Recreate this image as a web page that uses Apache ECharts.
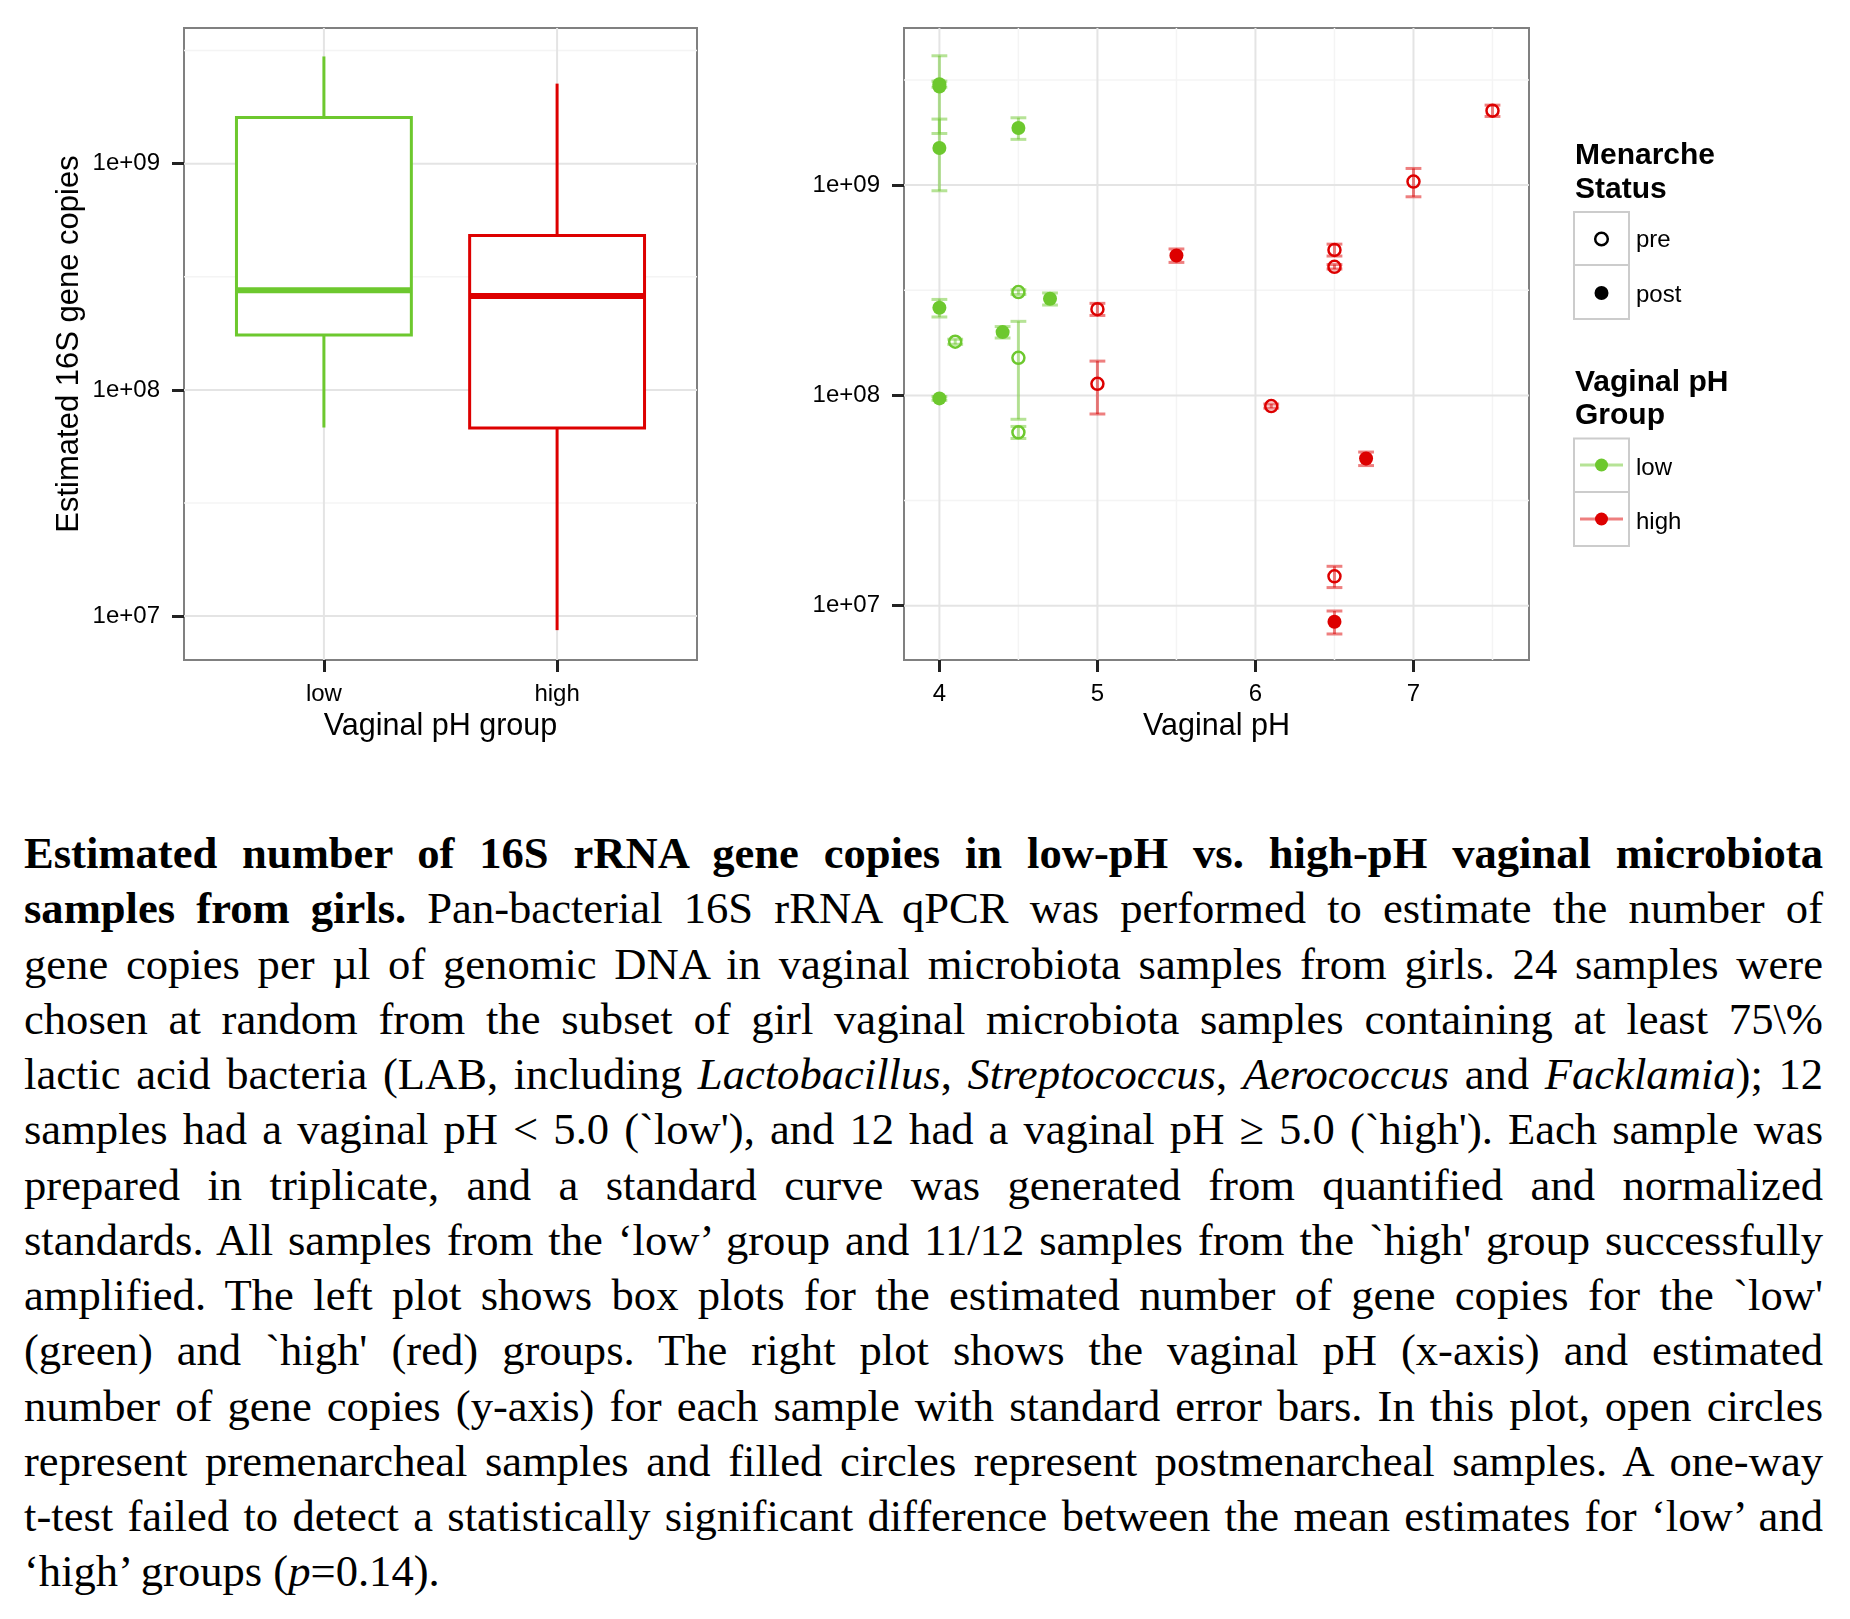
<!DOCTYPE html>
<html>
<head>
<meta charset="utf-8">
<title>Estimated 16S rRNA gene copies</title>
<script src="https://cdn.jsdelivr.net/npm/echarts@6.0.0/dist/echarts.min.js"></script>
<style>
html,body{margin:0;padding:0;background:#fff;width:1850px;height:1619px;overflow:hidden;}
#chart{position:absolute;left:0;top:0;width:1850px;height:780px;}
#caption{position:absolute;left:24px;top:826px;width:1799px;font-family:"Liberation Serif","Times New Roman",serif;font-size:44.6px;color:#000;}
#caption .ln{height:55.25px;line-height:55.25px;text-align:justify;text-align-last:justify;white-space:normal;}
#caption .ln.last{text-align-last:left;}
</style>
</head>
<body>
<div id="chart"></div>
<div id="caption"></div>
<script>
// ---------------- data ----------------
const groupCategories = ['low', 'high'];
// five-number summaries: [lower whisker, Q1, median, Q3, upper whisker]
const boxLow  = [6.82e7, 1.75e8, 2.76e8, 1.60e9, 2.98e9];
const boxHigh = [8.67e6, 6.79e7, 2.60e8, 4.82e8, 2.26e9];

const yTickValues = [1e7, 1e8, 1e9];
const yTickLabels = ['1e+07', '1e+08', '1e+09'];
const yMinorLog = [7.5, 8.5, 9.5];
const phTicks = [4, 5, 6, 7];
const phMinor = [4.5, 5.5, 6.5, 7.5];

// right plot: per-sample mean estimate and standard error
const lowPrePH      = [4.1, 4.5, 4.5, 4.5];
const lowPreCopies  = [1.80e8, 3.10e8, 1.51e8, 6.68e7];
const lowPreSE      = [5e6, 8e6, 7.4e7, 4.4e6];
const lowPostPH     = [4.0, 4.0, 4.0, 4.5, 4.0, 4.4, 4.7, 4.0];
const lowPostCopies = [2.94e9, 3.02e9, 1.50e9, 1.87e9, 2.61e8, 2.00e8, 2.88e8, 9.68e7];
const lowPostSE     = [1.18e9, 1.0e8, 5.6e8, 2.2e8, 2.5e7, 1.25e7, 1.9e7, 2e6];
const highPrePH      = [5.0, 5.0, 6.1, 6.5, 6.5, 6.5, 7.0, 7.5];
const highPreCopies  = [2.57e8, 1.136e8, 8.9e7, 4.92e8, 4.09e8, 1.38e7, 1.04e9, 2.26e9];
const highPreSE      = [1.7e7, 3.2e7, 2e6, 3.2e7, 1e7, 1.6e6, 1.6e8, 1.4e8];
const highPostPH     = [5.5, 6.5, 6.7];
const highPostCopies = [4.63e8, 8.39e6, 5.01e7];
const highPostSE     = [3.4e7, 1.05e6, 3.7e6];

const captionLines = [
  '<b>Estimated number of 16S rRNA gene copies in low-pH vs. high-pH vaginal microbiota</b>',
  '<b>samples from girls.</b> Pan-bacterial 16S rRNA qPCR was performed to estimate the number of',
  'gene copies per µl of genomic DNA in vaginal microbiota samples from girls. 24 samples were',
  'chosen at random from the subset of girl vaginal microbiota samples containing at least 75\\%',
  'lactic acid bacteria (LAB, including <i>Lactobacillus</i>, <i>Streptococcus</i>, <i>Aerococcus</i> and <i>Facklamia</i>); 12',
  'samples had a vaginal pH &lt; 5.0 (`low\'), and 12 had a vaginal pH ≥ 5.0 (`high\'). Each sample was',
  'prepared in triplicate, and a standard curve was generated from quantified and normalized',
  'standards. All samples from the ‘low’ group and 11/12 samples from the `high\' group successfully',
  'amplified. The left plot shows box plots for the estimated number of gene copies for the `low\'',
  '(green) and `high\' (red) groups. The right plot shows the vaginal pH (x-axis) and estimated',
  'number of gene copies (y-axis) for each sample with standard error bars. In this plot, open circles',
  'represent premenarcheal samples and filled circles represent postmenarcheal samples. A one-way',
  't-test failed to detect a statistically significant difference between the mean estimates for ‘low’ and',
  '‘high’ groups (<i>p</i>=0.14).'
];

// ---------------- styles ----------------
const GREEN = '#6dc82e';
const RED = '#dd0000';
const GREEN_EB = 'rgba(109,200,46,0.5)';
const RED_EB = 'rgba(221,0,0,0.5)';
const groupColors = [GREEN, RED];
const FONT = '"Liberation Sans", Arial, sans-serif';

// caption
document.getElementById('caption').innerHTML = captionLines.map((l, i) =>
  '<div class="ln' + (i === captionLines.length - 1 ? ' last' : '') + '">' + l + '</div>').join('');

// ---------------- helpers ----------------
const lg = Math.log10;
const yTickLog = yTickValues.map(lg);
function fmtY(v) {
  const i = yTickLog.findIndex(t => Math.abs(t - v) < 1e-6);
  return i >= 0 ? yTickLabels[i] : '';
}
const L = { xMin: 0.4, xMax: 2.6, yMin: 6.806, yMax: 9.600 };
const R = { xMin: 3.776, xMax: 7.731, yMin: 6.742, yMax: 9.747 };

function gridLineSeries(xi, yi, data, horizontal, color, width) {
  return {
    type: 'custom', xAxisIndex: xi, yAxisIndex: yi, silent: true, z: 1, clip: false,
    data: data,
    renderItem: function (params, api) {
      const cs = params.coordSys;
      const p = api.coord([api.value(0), api.value(1)]);
      const shape = horizontal
        ? { x1: cs.x, y1: p[1], x2: cs.x + cs.width, y2: p[1] }
        : { x1: p[0], y1: cs.y, x2: p[0], y2: cs.y + cs.height };
      return { type: 'line', shape: shape, style: { stroke: color, lineWidth: width } };
    }
  };
}

function errorBarSeries(phs, means, ses, color) {
  const data = phs.map((p, i) => [p, lg(means[i] - ses[i]), lg(means[i] + ses[i])]);
  return {
    type: 'custom', xAxisIndex: 1, yAxisIndex: 1, silent: true, z: 3,
    encode: { x: 0, y: [1, 2] },
    data: data,
    renderItem: function (params, api) {
      const x = api.value(0), lo = api.value(1), hi = api.value(2);
      const half = 0.05;
      const a = api.coord([x, hi]), b = api.coord([x, lo]);
      const c1 = api.coord([x - half, hi]), c2 = api.coord([x + half, hi]);
      const d1 = api.coord([x - half, lo]), d2 = api.coord([x + half, lo]);
      const st = { stroke: color, lineWidth: 3 };
      return { type: 'group', children: [
        { type: 'line', shape: { x1: a[0], y1: a[1], x2: b[0], y2: b[1] }, style: st },
        { type: 'line', shape: { x1: c1[0], y1: c1[1], x2: c2[0], y2: c2[1] }, style: st },
        { type: 'line', shape: { x1: d1[0], y1: d1[1], x2: d2[0], y2: d2[1] }, style: st }
      ]};
    }
  };
}

function pointSeries(phs, means, color, open) {
  return {
    type: 'scatter', xAxisIndex: 1, yAxisIndex: 1, silent: true, z: 4,
    symbol: 'circle', symbolSize: open ? 12 : 14,
    data: phs.map((p, i) => [p, lg(means[i])]),
    itemStyle: open
      ? { color: 'rgba(255,255,255,0)', borderColor: color, borderWidth: 2.5, opacity: 1 }
      : { color: color, borderWidth: 0, opacity: 1 },
    emphasis: { disabled: true }
  };
}

const tickStyle = { show: true, length: 12, lineStyle: { color: '#222', width: 3 } };
const labelStyle = { fontSize: 24, color: '#000', fontFamily: FONT };

function legendText(text, x, y, bold) {
  const font = (bold ? 'bold 30px ' : '24px ') + FONT;
  return { type: 'text', x: x, y: y, style: { text: text, font: font, fill: '#000', textAlign: 'left', textVerticalAlign: 'middle', align: 'left', verticalAlign: 'middle' } };
}

const option = {
  animation: false,
  backgroundColor: '#fff',
  textStyle: { fontFamily: FONT },
  grid: [
    { left: 184, top: 28, width: 513, height: 632, show: true, borderColor: '#808080', borderWidth: 2, backgroundColor: '#fff', containLabel: false },
    { left: 904, top: 28, width: 625, height: 632, show: true, borderColor: '#808080', borderWidth: 2, backgroundColor: '#fff', containLabel: false }
  ],
  xAxis: [
    {
      gridIndex: 0, type: 'value', min: L.xMin, max: L.xMax,
      axisLine: { show: false }, splitLine: { show: false },
      axisTick: Object.assign({ customValues: [1, 2] }, tickStyle),
      axisLabel: Object.assign({ customValues: [1, 2], margin: 22,
        formatter: v => { const i = Math.round(v) - 1; return (Math.abs(v - Math.round(v)) < 1e-6 && groupCategories[i]) || ''; } }, labelStyle),
      name: 'Vaginal pH group', nameLocation: 'middle', nameGap: 47,
      nameTextStyle: { fontSize: 30.5, color: '#000', fontFamily: FONT }
    },
    {
      gridIndex: 1, type: 'value', min: R.xMin, max: R.xMax,
      axisLine: { show: false }, splitLine: { show: false },
      axisTick: Object.assign({ customValues: phTicks }, tickStyle),
      axisLabel: Object.assign({ customValues: phTicks, margin: 22,
        formatter: v => (phTicks.indexOf(v) >= 0 ? String(v) : '') }, labelStyle),
      name: 'Vaginal pH', nameLocation: 'middle', nameGap: 47,
      nameTextStyle: { fontSize: 30.5, color: '#000', fontFamily: FONT }
    }
  ],
  yAxis: [
    {
      gridIndex: 0, type: 'value', min: L.yMin, max: L.yMax,
      axisLine: { show: false }, splitLine: { show: false },
      axisTick: Object.assign({ customValues: yTickLog }, tickStyle),
      axisLabel: Object.assign({ customValues: yTickLog, margin: 24, formatter: fmtY }, labelStyle),
      name: 'Estimated 16S gene copies', nameLocation: 'middle', nameGap: 99,
      nameTextStyle: { fontSize: 31, color: '#000', fontFamily: FONT }
    },
    {
      gridIndex: 1, type: 'value', min: R.yMin, max: R.yMax,
      axisLine: { show: false }, splitLine: { show: false },
      axisTick: Object.assign({ customValues: yTickLog }, tickStyle),
      axisLabel: Object.assign({ customValues: yTickLog, margin: 24, formatter: fmtY }, labelStyle)
    }
  ],
  series: [
    // left panel gridlines
    gridLineSeries(0, 0, yMinorLog.map(v => [L.xMin, v]), true, '#f4f4f4', 1.5),
    gridLineSeries(0, 0, yTickLog.map(v => [L.xMin, v]), true, '#e4e4e4', 2),
    gridLineSeries(0, 0, groupCategories.map((c, i) => [i + 1, L.yMin]), false, '#e4e4e4', 2),
    // right panel gridlines
    gridLineSeries(1, 1, yMinorLog.map(v => [R.xMin, v]), true, '#f4f4f4', 1.5),
    gridLineSeries(1, 1, phMinor.map(v => [v, R.yMin]), false, '#f4f4f4', 1.5),
    gridLineSeries(1, 1, yTickLog.map(v => [R.xMin, v]), true, '#e4e4e4', 2),
    gridLineSeries(1, 1, phTicks.map(v => [v, R.yMin]), false, '#e4e4e4', 2),
    // box plots
    {
      type: 'custom', xAxisIndex: 0, yAxisIndex: 0, silent: true, z: 3,
      encode: { x: 0, y: [1, 2, 3, 4, 5] },
      data: [boxLow, boxHigh].map((b, i) => [i + 1].concat(b.map(lg))),
      renderItem: function (params, api) {
        const x = api.value(0);
        const mn = api.value(1), q1 = api.value(2), md = api.value(3), q3 = api.value(4), mx = api.value(5);
        const col = groupColors[params.dataIndex];
        const hw = 0.375;
        const pMax = api.coord([x, mx]), pQ3 = api.coord([x, q3]);
        const pQ1 = api.coord([x, q1]), pMin = api.coord([x, mn]);
        const lt = api.coord([x - hw, q3]), rb = api.coord([x + hw, q1]);
        const ml = api.coord([x - hw, md]), mr = api.coord([x + hw, md]);
        return { type: 'group', children: [
          { type: 'line', shape: { x1: pMax[0], y1: pMax[1], x2: pQ3[0], y2: pQ3[1] }, style: { stroke: col, lineWidth: 3 } },
          { type: 'line', shape: { x1: pQ1[0], y1: pQ1[1], x2: pMin[0], y2: pMin[1] }, style: { stroke: col, lineWidth: 3 } },
          { type: 'rect', shape: { x: lt[0], y: lt[1], width: rb[0] - lt[0], height: rb[1] - lt[1] }, style: { fill: '#fff', stroke: col, lineWidth: 3 } },
          { type: 'line', shape: { x1: ml[0], y1: ml[1], x2: mr[0], y2: mr[1] }, style: { stroke: col, lineWidth: 6 } }
        ]};
      }
    },
    // error bars
    errorBarSeries(lowPrePH.concat(lowPostPH), lowPreCopies.concat(lowPostCopies), lowPreSE.concat(lowPostSE), GREEN_EB),
    errorBarSeries(highPrePH.concat(highPostPH), highPreCopies.concat(highPostCopies), highPreSE.concat(highPostSE), RED_EB),
    // points
    pointSeries(lowPrePH, lowPreCopies, GREEN, true),
    pointSeries(lowPostPH, lowPostCopies, GREEN, false),
    pointSeries(highPrePH, highPreCopies, RED, true),
    pointSeries(highPostPH, highPostCopies, RED, false)
  ],
  graphic: [
    legendText('Menarche', 1575, 156, true),
    legendText('Status', 1575, 190, true),
    { type: 'rect', shape: { x: 1574, y: 212, width: 55, height: 53 }, style: { fill: '#fff', stroke: '#cccccc', lineWidth: 2 } },
    { type: 'rect', shape: { x: 1574, y: 265, width: 55, height: 54 }, style: { fill: '#fff', stroke: '#cccccc', lineWidth: 2 } },
    { type: 'circle', shape: { cx: 1601.5, cy: 239, r: 6.3 }, style: { fill: 'none', stroke: '#000', lineWidth: 2.5 } },
    { type: 'circle', shape: { cx: 1601.5, cy: 293, r: 7 }, style: { fill: '#000' } },
    legendText('pre', 1636, 240, false),
    legendText('post', 1636, 295, false),

    legendText('Vaginal pH', 1575, 383, true),
    legendText('Group', 1575, 416, true),
    { type: 'rect', shape: { x: 1574, y: 438.5, width: 55, height: 53.5 }, style: { fill: '#fff', stroke: '#cccccc', lineWidth: 2 } },
    { type: 'rect', shape: { x: 1574, y: 492, width: 55, height: 54 }, style: { fill: '#fff', stroke: '#cccccc', lineWidth: 2 } },
    { type: 'line', shape: { x1: 1580, y1: 465, x2: 1623, y2: 465 }, style: { stroke: GREEN_EB, lineWidth: 3 } },
    { type: 'circle', shape: { cx: 1601.5, cy: 465, r: 6.5 }, style: { fill: GREEN } },
    { type: 'line', shape: { x1: 1580, y1: 519, x2: 1623, y2: 519 }, style: { stroke: RED_EB, lineWidth: 3 } },
    { type: 'circle', shape: { cx: 1601.5, cy: 519, r: 6.5 }, style: { fill: RED } },
    legendText('low', 1636, 468, false),
    legendText('high', 1636, 522, false)
  ]
};

const chart = echarts.init(document.getElementById('chart'), null, { renderer: 'canvas' });
chart.setOption(option);
</script>
</body>
</html>
